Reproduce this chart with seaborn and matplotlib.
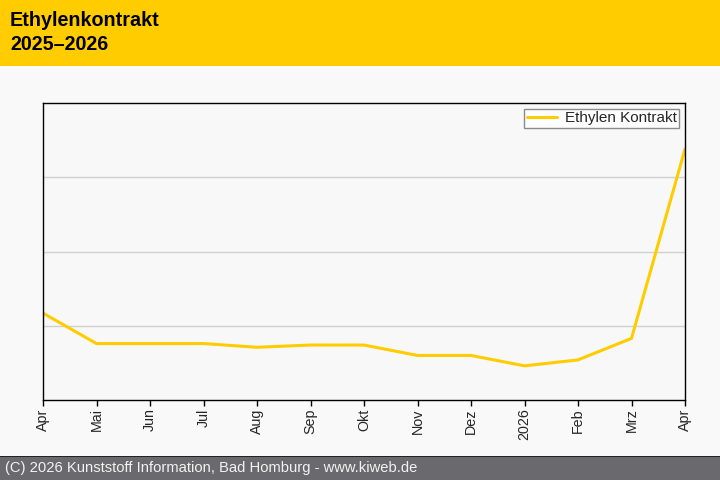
import matplotlib
matplotlib.use('Agg')
import matplotlib.pyplot as plt
import seaborn as sns
import pandas as pd
import numpy as np

# 数据准备
months = ['Apr', 'Mai', 'Jun', 'Jul', 'Aug', 'Sep', 'Okt', 'Nov', 'Dez', '2026', 'Feb', 'Mrz', 'Apr']
prices = [1017, 976, 976, 976, 971, 974, 974, 960, 960, 946, 954, 983, 1238]
series_name = 'Ethylen Kontrakt'

df = pd.DataFrame({'pos': range(len(months)), 'value': prices})

sns.set_theme(style='white')
plt.rcParams['font.family'] = ['Liberation Sans', 'DejaVu Sans']

fig = plt.figure(figsize=(7.2, 4.8), dpi=100)
fig.patch.set_facecolor('#f9f9f9')

# 页眉 / 页脚
fig.patches.append(plt.Rectangle((0, 1 - 66 / 480), 1, 66 / 480, transform=fig.transFigure,
                                 facecolor='#ffcc00', edgecolor='none', zorder=0))
fig.patches.append(plt.Rectangle((0, 0), 1, 23 / 480, transform=fig.transFigure,
                                 facecolor='#6a6a6e', edgecolor='none', zorder=0))
fig.patches.append(plt.Rectangle((0, 23 / 480), 1, 1.5 / 480, transform=fig.transFigure,
                                 facecolor='#222222', edgecolor='none', zorder=0))
fig.text(10 / 720, 1 - 21 / 480, 'Ethylenkontrakt', fontsize=14.2, fontweight='bold',
         va='center', ha='left', color='black')
fig.text(10 / 720, 1 - 45 / 480, '2025\u20132026', fontsize=14.2, fontweight='bold',
         va='center', ha='left', color='black')
fig.text(5 / 720, 12 / 480, '(C) 2026 Kunststoff Information, Bad Homburg - www.kiweb.de',
         fontsize=10.6, va='center', ha='left', color='#f2f2f2')

ax = fig.add_axes([43 / 720, 80 / 480, 642 / 720, 297 / 480])
ax.set_facecolor('#f8f8f8')

sns.lineplot(data=df, x='pos', y='value', ax=ax, color='#ffcc00', linewidth=2.2,
             label=series_name)

ax.set_xlim(0, len(months) - 1)
ax.set_ylim(900, 1300)
ax.set_xticks(range(len(months)))
ax.set_xticklabels(months, rotation=90, fontsize=10.3)
ax.set_yticks([1000, 1100, 1200])
ax.set_yticklabels([])
ax.tick_params(axis='y', length=0)
ax.tick_params(axis='x', length=4, width=1, color='black', direction='out', bottom=True, pad=2)
ax.yaxis.grid(True, color='#d0d0d0', linewidth=1)
ax.set_xlabel('')
ax.set_ylabel('')

for spine in ax.spines.values():
    spine.set_visible(True)
    spine.set_color('black')
    spine.set_linewidth(1)

leg = ax.legend(loc='upper right', fontsize=11, frameon=True, fancybox=False,
                borderpad=0.15, handlelength=2.0, handletextpad=0.5, borderaxespad=0.4)
leg.get_frame().set_edgecolor('#707070')
leg.get_frame().set_facecolor('white')
leg.get_frame().set_linewidth(1)

plt.savefig('out.png', dpi=100, facecolor=fig.get_facecolor())
